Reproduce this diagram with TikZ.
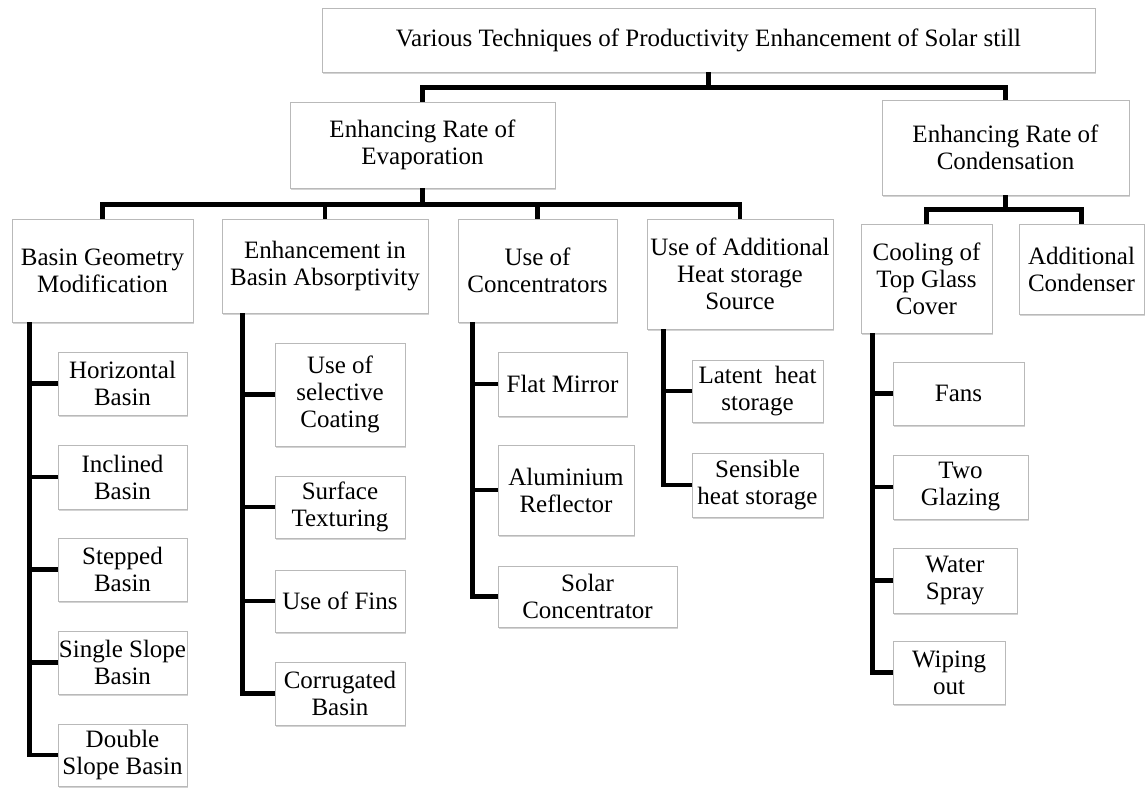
\documentclass[tikz,border=0pt]{standalone}
\usepackage{fontspec}
\setmainfont{Liberation Serif}
\usetikzlibrary{shadows}
% box from corner (x1,y1) to corner (x2,y2), in pixels of the page
\newcommand{\tbox}[6]{%
  \node[box,minimum width={(#4)-(#2)},minimum height={(#5)-(#3)}] (#1) at ({((#2)+(#4))/2},{((#3)+(#5))/2}) {#6};}
\begin{document}
\begin{tikzpicture}[x=1pt,y=-1pt,
    box/.style={draw=gray!55,line width=0.8pt,fill=white,align=center,inner sep=0pt,
        drop shadow={shadow xshift=1.2pt,shadow yshift=-1.6pt,opacity=0.35}},
    link/.style={line width=4.5pt,black},
    font=\fontsize{25}{27}\selectfont]
    \useasboundingbox (0,0) rectangle (1145,787);
    % upper levels
    \tbox{top}{322}{8}{1095}{72}{Various Techniques of Productivity Enhancement of Solar still}
    \tbox{evap}{290}{102}{555}{188}{Enhancing Rate of\\Evaporation}
    \tbox{cond}{882}{100}{1129}{195}{Enhancing Rate of\\Condensation}
    \tbox{geom}{12}{219}{193}{322}{Basin Geometry\\Modification}
    \tbox{absorb}{222}{219}{428}{313}{Enhancement in\\Basin Absorptivity}
    \tbox{conc}{458}{219}{617}{322}{Use of\\Concentrators}
    \tbox{heat}{647}{219}{833}{329}{Use of Additional\\Heat storage\\Source}
    \tbox{glass}{861}{224}{992}{333}{Cooling of\\Top Glass\\Cover}
    \tbox{condenser}{1019}{224}{1144}{314}{Additional\\Condenser}
    % techniques
    \foreach \n/\ya/\yb/\t in {horiz/352/415/{Horizontal\\Basin},incl/445/509/{Inclined\\Basin},stepped/538/601/{Stepped\\Basin},sslope/631/694/{Single Slope\\Basin},dslope/724/786/{Double\\Slope Basin}}
        \tbox{\n}{58}{\ya}{187}{\yb}{\t};
    \foreach \n/\ya/\yb/\t in {selcoat/343/446/{Use of\\selective\\Coating},texture/476/538/{Surface\\Texturing},fins/570/632/{Use of Fins},corrug/662/725/{Corrugated\\Basin}}
        \tbox{\n}{275}{\ya}{405}{\yb}{\t};
    \foreach \n/\xb/\ya/\yb/\t in {flat/627/352/416/{Flat Mirror},alum/634/445/535/{Aluminium\\Reflector},solar/677/566/627/{Solar\\Concentrator}}
        \tbox{\n}{498}{\ya}{\xb}{\yb}{\t};
    \foreach \n/\ya/\yb/\t in {latent/360/422/{Latent~ heat\\storage},sensible/453/517/{Sensible\\heat storage}}
        \tbox{\n}{692}{\ya}{823}{\yb}{\t};
    \foreach \n/\xb/\ya/\yb/\t in {fans/1024/362/425/{Fans},twoglz/1028/455/519/{Two\\Glazing},spray/1017/548/613/{Water\\Spray},wipe/1005/641/704/{Wiping\\out}}
        \tbox{\n}{893}{\ya}{\xb}{\yb}{\t};
    % connectors
    \draw[link] (top.south) -- ++(0,15) -| (evap.north);
    \draw[link] (top.south) -- ++(0,15) -| (cond.north);
    \foreach \c in {geom,absorb,conc,heat}
        \draw[link] (evap.south) -- ++(0,16) -| (\c.north);
    \foreach \c in {glass,condenser}
        \draw[link] (cond.south) -- ++(0,14) -| (\c.north);
    \foreach \c in {horiz,incl,stepped,sslope,dslope}
        \draw[link] ([xshift=18pt]geom.south west) |- (\c.west);
    \foreach \c in {selcoat,texture,fins,corrug}
        \draw[link] ([xshift=21pt]absorb.south west) |- (\c.west);
    \foreach \c in {flat,alum,solar}
        \draw[link] ([xshift=15pt]conc.south west) |- (\c.west);
    \foreach \c in {latent,sensible}
        \draw[link] ([xshift=17pt]heat.south west) |- (\c.west);
    \foreach \c in {fans,twoglz,spray,wipe}
        \draw[link] ([xshift=12pt]glass.south west) |- (\c.west);
\end{tikzpicture}
\end{document}
